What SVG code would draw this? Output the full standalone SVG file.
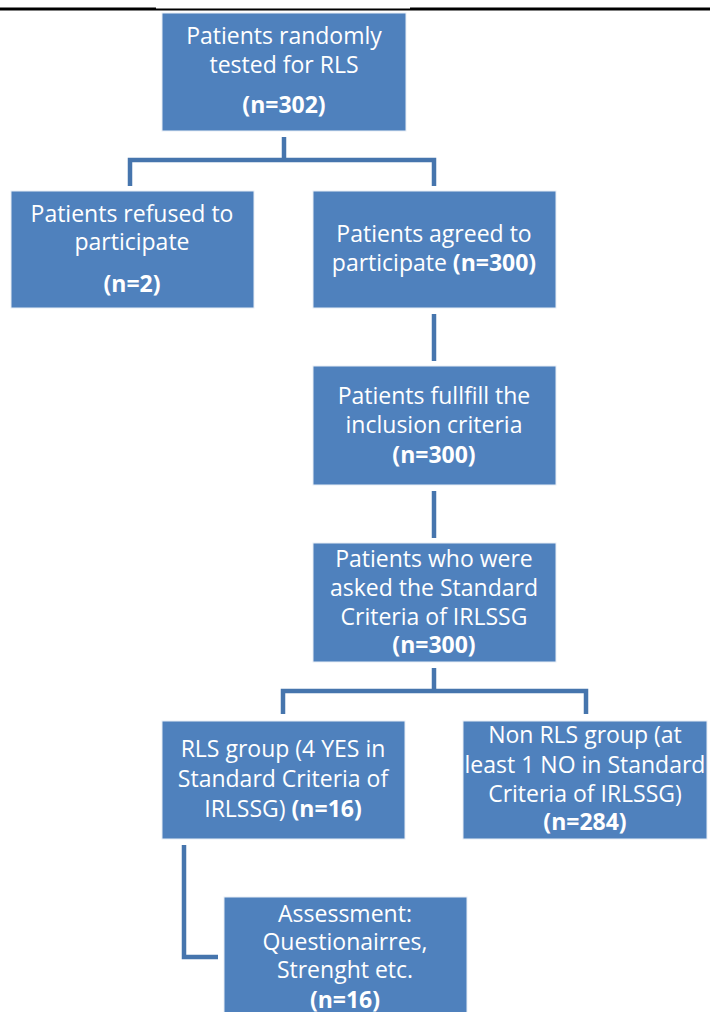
<svg xmlns="http://www.w3.org/2000/svg" width="710" height="1012" viewBox="0 0 710 1012">
<style>
.box{fill:#4F81BD;stroke:#e8eef6;stroke-width:1}
.t{font-family:"Open Sans","Noto Sans",sans-serif;font-size:23px;fill:#ffffff;text-anchor:middle}
.b{font-weight:bold}
.c{fill:none;stroke:#4675AD;stroke-width:4.5;stroke-linejoin:miter;stroke-linecap:butt}
</style>
<rect width="710" height="1012" fill="#ffffff"/>
<line x1="0" y1="9" x2="156" y2="9" stroke="#000" stroke-width="3"/>
<line x1="156" y1="9.5" x2="410" y2="9.5" stroke="#000" stroke-width="2"/>
<line x1="410" y1="9" x2="710" y2="9" stroke="#000" stroke-width="3"/>
<g id="connectors">
<path class="c" d="M284,137 V160"/>
<path class="c" d="M130,186 V160 H434 V186"/>
<path class="c" d="M434,314 V361"/>
<path class="c" d="M434,491 V538"/>
<path class="c" d="M434,668 V691"/>
<path class="c" d="M283,714 V691 H586 V714"/>
<path class="c" d="M184,845 V957 H218"/>
</g>
<g id="n1">
<rect class="box" x="162" y="13" width="244" height="118"/>
<text class="t" x="284" y="44">Patients randomly</text>
<text class="t" x="284" y="73">tested for RLS</text>
<text class="t b" x="284" y="113">(n=302)</text>
</g>
<g id="n2">
<rect class="box" x="11" y="191" width="243" height="117"/>
<text class="t" x="132" y="222">Patients refused to</text>
<text class="t" x="132" y="250">participate</text>
<text class="t b" x="132" y="292">(n=2)</text>
</g>
<g id="n3">
<rect class="box" x="313" y="191" width="243" height="117"/>
<text class="t" x="434" y="242">Patients agreed to</text>
<text class="t" x="434" y="271">participate <tspan class="b">(n=300)</tspan></text>
</g>
<g id="n4">
<rect class="box" x="313" y="366" width="243" height="119"/>
<text class="t" x="434" y="404">Patients fullfill the</text>
<text class="t" x="434" y="433">inclusion criteria</text>
<text class="t b" x="434" y="463">(n=300)</text>
</g>
<g id="n5">
<rect class="box" x="313" y="543" width="243" height="119"/>
<text class="t" x="434" y="567">Patients who were</text>
<text class="t" x="434" y="596">asked the Standard</text>
<text class="t" x="434" y="625">Criteria of IRLSSG</text>
<text class="t b" x="434" y="653">(n=300)</text>
</g>
<g id="n6">
<rect class="box" x="162" y="721" width="243" height="118"/>
<text class="t" x="283" y="757">RLS group (4 YES in</text>
<text class="t" x="283" y="787">Standard Criteria of</text>
<text class="t" x="283" y="817">IRLSSG) <tspan class="b">(n=16)</tspan></text>
</g>
<g id="n7">
<rect class="box" x="463" y="721" width="244" height="118"/>
<text class="t" x="585" y="743">Non RLS group (at</text>
<text class="t" x="585" y="773">least 1 NO in Standard</text>
<text class="t" x="585" y="802">Criteria of IRLSSG)</text>
<text class="t b" x="585" y="830">(n=284)</text>
</g>
<g id="n8">
<rect class="box" x="224" y="897" width="243" height="125"/>
<text class="t" x="345" y="922">Assessment:</text>
<text class="t" x="345" y="950">Questionairres,</text>
<text class="t" x="345" y="978">Strenght etc.</text>
<text class="t b" x="345" y="1008">(n=16)</text>
</g>
</svg>
